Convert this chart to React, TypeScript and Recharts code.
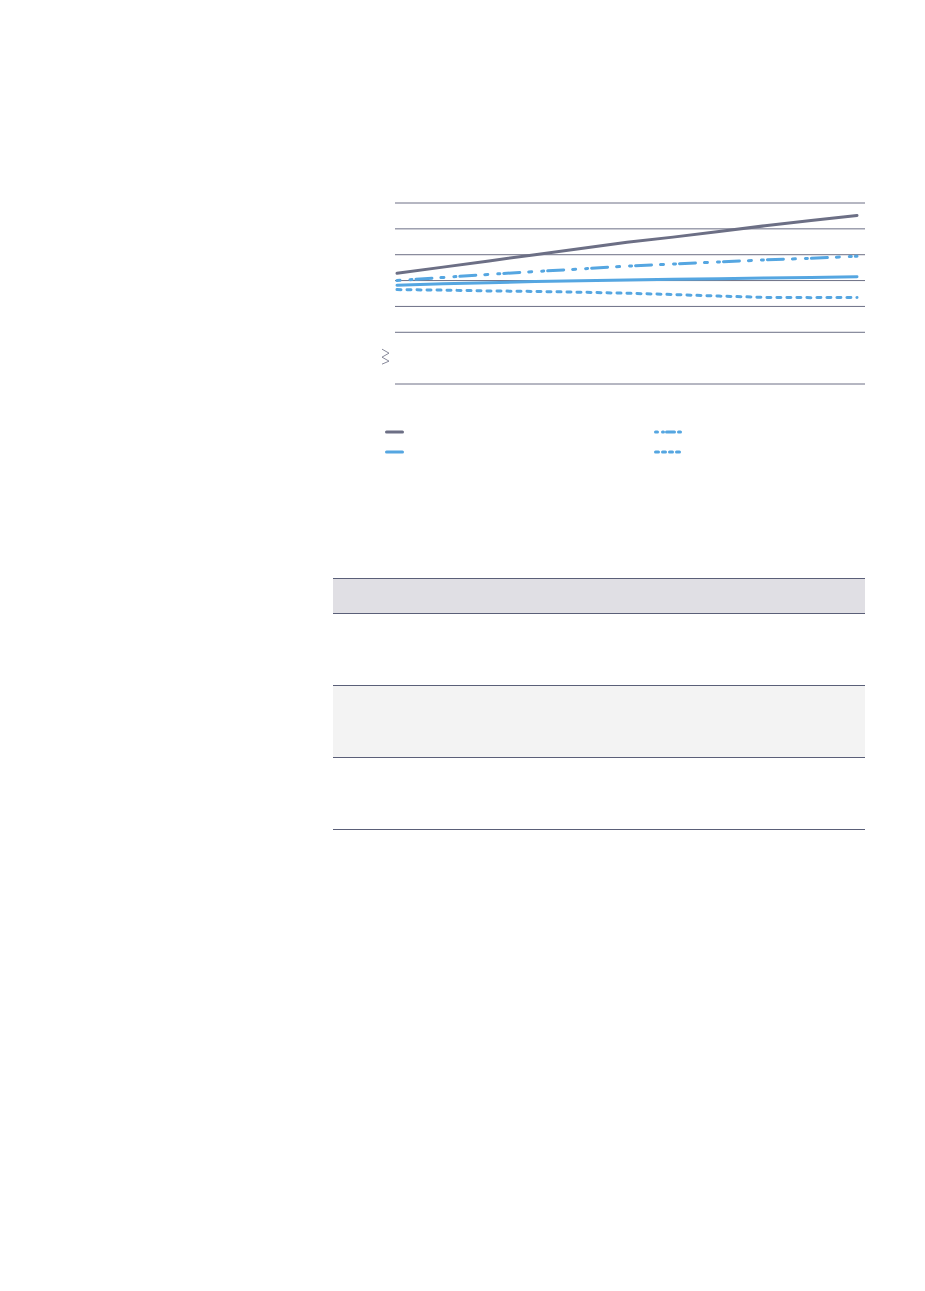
import { LineChart, Line, XAxis, YAxis, CartesianGrid, ReferenceLine } from 'recharts';

// categories (years) and series values
const years = ['2010', '2011', '2012', '2013', '2014', '2015', '2016', '2017', '2018', '2019', '2020'];
const seriesA = [36.4, 37.6, 38.8, 40.0, 41.2, 42.4, 43.4, 44.5, 45.6, 46.6, 47.6];
const seriesB = [34.1, 34.4, 34.6, 34.8, 34.95, 35.1, 35.25, 35.35, 35.5, 35.6, 35.75];
const seriesC = [35.0, 35.6, 36.2, 36.75, 37.25, 37.8, 38.2, 38.6, 39.0, 39.3, 39.7];
const seriesD = [33.25, 33.15, 33.0, 32.9, 32.75, 32.55, 32.3, 32.0, 31.75, 31.7, 31.75];

const yTicks = [15, 20, 25, 30, 35, 40, 45, 50];
const gridValues = [25, 30, 35, 40, 45, 50];
const baseline = 15;
const breakTick = 20;

const GRAY = '#6c6f85';
const BLUE = '#55a6e1';

const series = [
  { key: 'a', values: seriesA, color: GRAY, dash: undefined as string | undefined, legendDash: undefined as string | undefined },
  { key: 'b', values: seriesB, color: BLUE, dash: undefined, legendDash: undefined },
  { key: 'c', values: seriesC, color: BLUE, dash: '3 10 2 4 16 9', legendDash: '2 5 1 3 8 4' },
  { key: 'd', values: seriesD, color: BLUE, dash: '4 6', legendDash: '3 4' },
];

const data = years.map((year, i) => {
  const row: Record<string, string | number> = { year };
  series.forEach((s) => {
    row[s.key] = s.values[i];
  });
  return row;
});

// draws the axis-break zigzag at the skipped tick, nothing elsewhere
// eslint-disable-next-line @typescript-eslint/no-explicit-any
function BreakTick({ x, y, payload }: any) {
  if (payload?.value !== breakTick) return <g />;
  const bx = x - 5;
  return (
    <polyline
      points={`${bx},${y - 9} ${bx + 7},${y - 5} ${bx},${y - 1} ${bx + 7},${y + 3} ${bx},${y + 6}`}
      fill="none"
      stroke="#7a7d90"
      strokeWidth={0.9}
    />
  );
}

function LegendIcon({ color, dash, wide }: { color: string; dash?: string; wide: boolean }) {
  const w = wide ? 30 : 19;
  return (
    <svg width={w} height={6} style={{ display: 'block' }}>
      <line x1={1.5} y1={3} x2={w - 1.5} y2={3} stroke={color} strokeWidth={3} strokeLinecap="round" strokeDasharray={dash} />
    </svg>
  );
}

export default function App() {
  return (
    <div style={{ position: 'relative', width: 909, height: 1275, fontFamily: 'Roboto, sans-serif' }}>
      <div style={{ position: 'absolute', left: 367, top: 182 }}>
        <LineChart width={490} height={199} data={data} margin={{ top: 13, right: 0, bottom: 5, left: 0 }}>
          <CartesianGrid vertical={false} horizontalValues={gridValues} stroke={GRAY} strokeWidth={1} />
          <ReferenceLine y={baseline} stroke={GRAY} strokeWidth={1} ifOverflow="visible" />
          <XAxis dataKey="year" hide padding={{ left: 2, right: 8 }} />
          <YAxis
            domain={[15, 50]}
            ticks={yTicks}
            width={20}
            axisLine={false}
            tickLine={false}
            tick={<BreakTick />}
          />
          {series.map((s) => (
            <Line
              key={s.key}
              dataKey={s.key}
              type="linear"
              stroke={s.color}
              strokeWidth={3}
              strokeDasharray={s.dash}
              strokeLinecap="round"
              dot={false}
              activeDot={false}
              isAnimationActive={false}
            />
          ))}
        </LineChart>
      </div>

      {/* legend, two columns */}
      <div style={{ position: 'absolute', left: 377, top: 421, width: 320 }}>
        {series.map((s, i) => (
          <div
            key={s.key}
            style={{
              position: 'absolute',
              left: i < 2 ? 0 : 269,
              top: (i % 2) * 20,
              width: 40,
              height: 10,
            }}
          >
            <LegendIcon color={s.color} dash={s.legendDash} wide={i >= 2} />
          </div>
        ))}
      </div>

      {/* table below the chart */}
      <table
        style={{
          position: 'absolute',
          left: 325,
          top: 570,
          width: 532,
          borderCollapse: 'collapse',
        }}
      >
        <thead>
          <tr style={{ background: '#e0dfe4', height: 35 }}>
            <th style={{ borderTop: '1.5px solid #5a5f78', borderBottom: '1.5px solid #5a5f78', padding: 0 }} />
          </tr>
        </thead>
        <tbody>
          {[0, 1, 2].map((r) => (
            <tr key={r} style={{ background: r === 1 ? '#f3f3f3' : '#ffffff', height: 72 }}>
              <td style={{ borderBottom: '1.5px solid #5a5f78', padding: 0 }} />
            </tr>
          ))}
        </tbody>
      </table>
    </div>
  );
}
